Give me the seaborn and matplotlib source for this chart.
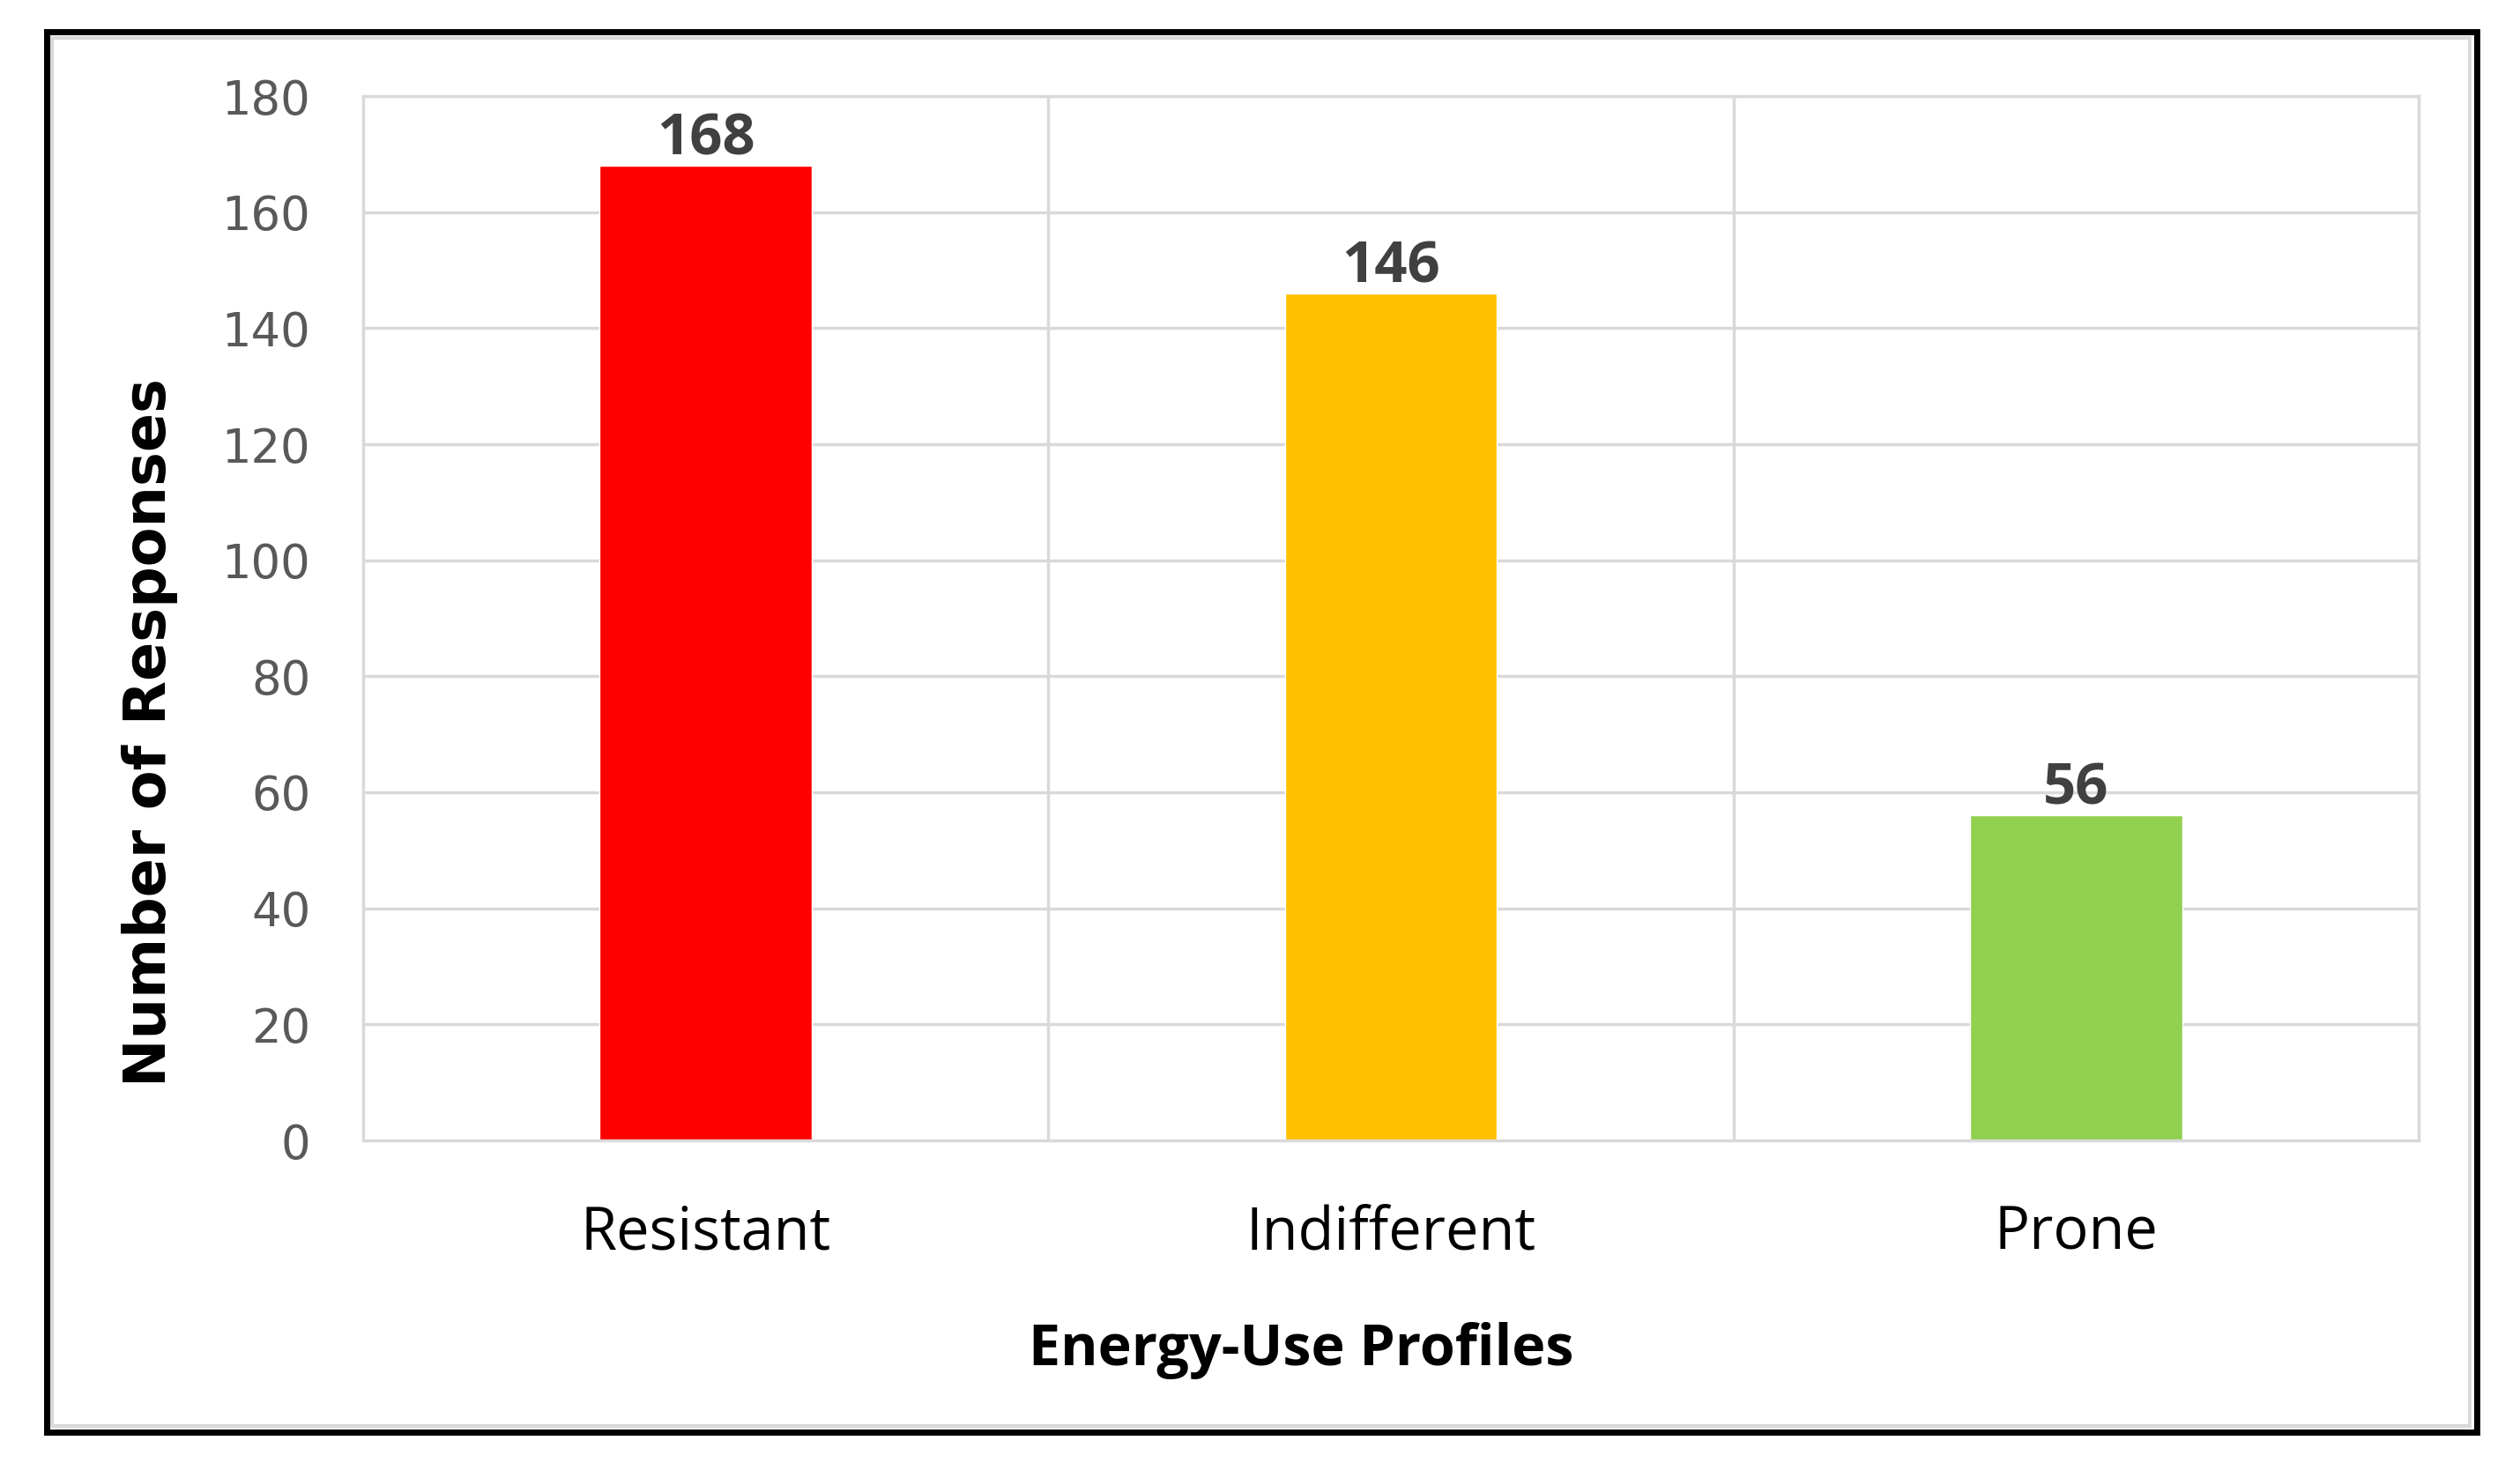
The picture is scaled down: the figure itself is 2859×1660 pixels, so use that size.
import matplotlib
matplotlib.use("Agg")
import matplotlib.pyplot as plt
from matplotlib.patches import Rectangle
import pandas as pd
import seaborn as sns

# data
profiles = ["Resistant", "Indifferent", "Prone"]
responses = [168, 146, 56]
bar_colors = ["#FF0000", "#FFC000", "#92D050"]
y_ticks = [0, 20, 40, 60, 80, 100, 120, 140, 160, 180]

W, H = 2859, 1660
sns.set_theme(style="white")
plt.rcParams['font.family'] = ['Open Sans', 'DejaVu Sans']

df = pd.DataFrame({"Profile": profiles, "Responses": responses})

fig = plt.figure(figsize=(W / 100, H / 100), dpi=100)
fig.patch.set_facecolor("white")
ax = fig.add_axes([412 / W, 1 - 1294 / H, (2744 - 412) / W, (1294 - 109) / H])

grid_c = "#D9D9D9"
sns.barplot(data=df, x="Profile", y="Responses", hue="Profile",
            palette=dict(zip(profiles, bar_colors)), width=0.31,
            legend=False, ax=ax, saturation=1)

ax.set_ylim(0, 180)
ax.set_xlim(-0.5, len(profiles) - 0.5)
ax.set_yticks(y_ticks)
ax.set_yticklabels([str(t) for t in y_ticks], family="DejaVu Sans",
                   fontsize=38, color="#595959")
ax.set_xticks(range(len(profiles)))
ax.set_xticklabels(profiles, fontsize=48, color="black")
ax.tick_params(axis="y", length=0, pad=43)
ax.tick_params(axis="x", length=0, pad=52)

# grid: horizontal at ticks, vertical at category boundaries
ax.set_axisbelow(True)
for t in y_ticks[1:]:
    ax.axhline(t, color=grid_c, lw=2.5, zorder=0)
for b in range(1, len(profiles)):
    ax.axvline(b - 0.5, color=grid_c, lw=2.5, zorder=0)
for s in ax.spines.values():
    s.set_visible(True)
    s.set_color(grid_c)
    s.set_linewidth(2.5)

# value labels
for i, v in enumerate(responses):
    ax.annotate(str(v), (i, v), xytext=(0, 9), textcoords="offset points",
                ha="center", va="baseline", fontsize=47, fontweight="bold",
                color="#404040")

ax.set_xlabel("")
ax.set_ylabel("")
fig.text(810 * 1.823 / W, 1 - 1532 / H, "Energy-Use Profiles", ha="center",
         va="center", fontsize=46.5, fontweight="bold", color="black")
fig.text(170 / W, 1 - (456 * 1.823) / H, "Number of Responses", rotation=90,
         ha="center", va="center", family="DejaVu Sans", fontsize=47,
         fontweight="bold", color="black")

# chart frame: thin gray inner line and thick black outer border
fig.patches.append(Rectangle((59 / W, 1 - 1618 / H), (2802 - 59) / W,
                             (1618 - 43) / H, transform=fig.transFigure,
                             fill=False, edgecolor=grid_c, lw=3))
fig.patches.append(Rectangle((53 / W, 1 - 1625 / H), (2810 - 53) / W,
                             (1625 - 36) / H, transform=fig.transFigure,
                             fill=False, edgecolor="black", lw=5))

fig.savefig("out.png", dpi=100)
